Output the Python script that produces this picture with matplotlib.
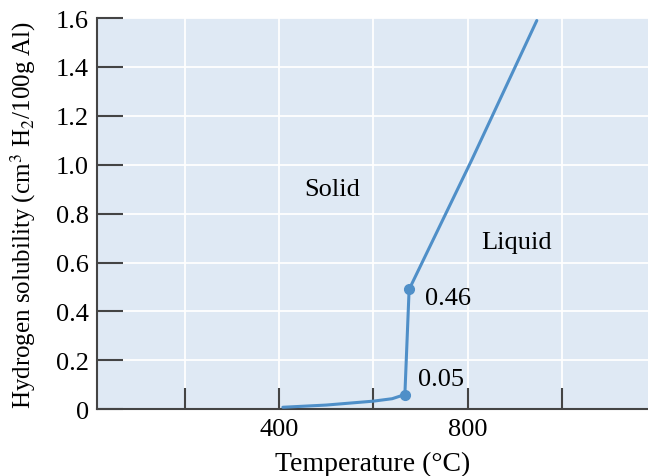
import matplotlib
matplotlib.use("Agg")
import matplotlib.pyplot as plt

# solid region (below melting point)
solid_temp = [408, 500, 600, 640, 667]
solid_h = [0.008, 0.017, 0.033, 0.043, 0.06]

# vertical jump at melting
melt_temp = [667, 676]
melt_h = [0.06, 0.49]

# liquid region
liquid_temp = [676, 809, 947]
liquid_h = [0.49, 1.02, 1.59]

dot_temp = [667, 676]
dot_h = [0.06, 0.49]
dot_labels = ["0.05", "0.46"]

x_ticks = [200, 400, 600, 800, 1000]
x_ticklabels = ["", "400", "", "800", ""]
y_ticks = [0, 0.2, 0.4, 0.6, 0.8, 1.0, 1.2, 1.4, 1.6]
y_ticklabels = ["0", "0.2", "0.4", "0.6", "0.8", "1.0", "1.2", "1.4", "1.6"]

plt.rcParams['font.family'] = ['Liberation Serif', 'DejaVu Serif']
plt.rcParams['mathtext.fontset'] = 'stix'

line_colour = '#4f8fc8'

fig = plt.figure(figsize=(6.48, 4.77), dpi=100)
ax = fig.add_axes([0.150, 0.140, 0.85, 0.820])
ax.set_facecolor('#dfe9f4')

ax.plot(solid_temp + melt_temp[1:] + liquid_temp[1:],
        solid_h + melt_h[1:] + liquid_h[1:],
        color=line_colour, linewidth=2.2, solid_capstyle='round',
        solid_joinstyle='round', zorder=3)
ax.plot(dot_temp, dot_h, 'o', color=line_colour, markersize=7, zorder=4)

ax.text(695, 0.123, dot_labels[0], fontsize=19, ha='left', va='center')
ax.text(710, 0.454, dot_labels[1], fontsize=19, ha='left', va='center')
ax.text(512, 0.90, "Solid", fontsize=19, ha='center', va='center')
ax.text(905, 0.683, "Liquid", fontsize=19, ha='center', va='center')

ax.set_xlim(14, 1183)
ax.set_ylim(0, 1.6)
ax.set_xticks(x_ticks)
ax.set_xticklabels(x_ticklabels, fontsize=19)
ax.set_yticks(y_ticks)
ax.set_yticklabels(y_ticklabels, fontsize=19)

ax.grid(True, color='white', linewidth=1.3)
ax.set_axisbelow(True)

for side in ['top', 'right']:
    ax.spines[side].set_visible(False)
for side in ['left', 'bottom']:
    ax.spines[side].set_color('#444444')
    ax.spines[side].set_linewidth(1.5)

ax.tick_params(axis='y', direction='in', length=19, width=1.5, color='#444444', pad=6)
ax.tick_params(axis='x', direction='in', length=15, width=1.5, color='#444444', pad=6)

ax.set_xlabel("Temperature (°C)", fontsize=20, labelpad=8)
ax.set_ylabel(r"Hydrogen solubility (cm$^3$ H$_2$/100g Al)", fontsize=18, labelpad=13)

fig.savefig("out.png", dpi=100)
